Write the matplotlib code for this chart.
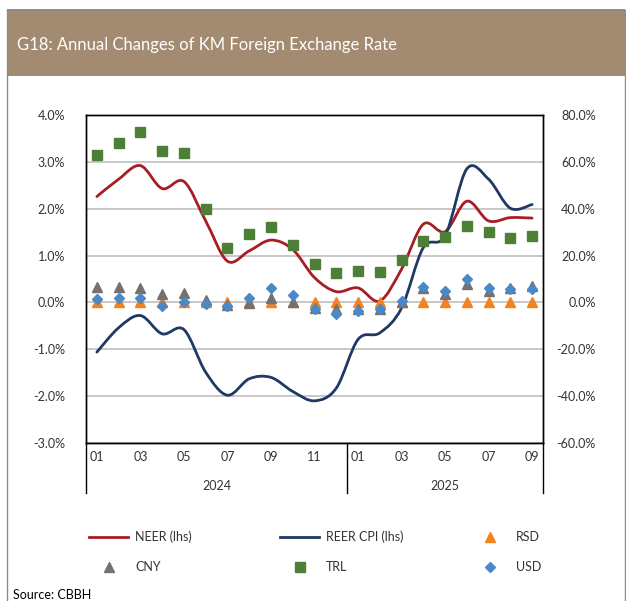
import matplotlib
matplotlib.use('Agg')
import matplotlib.pyplot as plt
from matplotlib.path import Path
from matplotlib.patches import PathPatch, Rectangle
from matplotlib.lines import Line2D
from matplotlib.transforms import blended_transform_factory
import numpy as np

plt.rcParams['font.family'] = ['Lato', 'DejaVu Sans']

months = ['01', '02', '03', '04', '05', '06', '07', '08', '09', '10', '11', '12',
          '01', '02', '03', '04', '05', '06', '07', '08', '09']
years = ['2024', '2025']
year_spans = [(0, 11), (12, 20)]

# left axis (%)
neer = [2.26, 2.63, 2.92, 2.43, 2.58, 1.74, 0.88, 1.10, 1.33, 1.13, 0.53, 0.23,
        0.31, 0.03, 0.71, 1.67, 1.51, 2.16, 1.74, 1.81, 1.80]
reer_cpi = [-1.06, -0.54, -0.28, -0.67, -0.58, -1.49, -1.98, -1.63, -1.60, -1.90, -2.10, -1.83,
            -0.79, -0.65, -0.12, 1.17, 1.42, 2.85, 2.63, 2.01, 2.09]
# right axis (%)
rsd = [0.0, 0.0, 0.0, 0.0, 0.0, 0.0, 0.0, 0.0, 0.0, 0.0, 0.0, 0.0,
       0.0, 0.0, 0.0, 0.0, 0.0, 0.0, 0.0, 0.0, 0.0]
cny = [6.5, 6.5, 6.1, 3.4, 4.1, 0.9, -1.1, -0.4, 1.7, 0.3, -2.2, -2.7,
       -3.0, -2.6, 0.2, 6.0, 3.7, 8.0, 4.8, 6.0, 7.0]
trl = [63.1, 68.0, 72.7, 64.5, 63.7, 39.7, 23.4, 29.0, 32.4, 24.7, 16.6, 12.7,
       13.6, 12.8, 17.9, 26.4, 27.8, 32.8, 30.0, 27.3, 28.3]
usd = [1.3, 2.0, 1.7, -1.6, 0.3, -0.6, -1.6, 2.0, 6.1, 3.0, -3.0, -5.1,
       -3.5, -3.0, 0.6, 6.6, 4.8, 9.8, 6.0, 5.9, 5.9]

C_NEER = '#A81C24'
C_REER = '#1F3864'
C_RSD = '#F4821F'
C_CNY = '#767171'
C_TRL = '#4E7F36'
C_USD = '#4A88C7'
TXT = '#333333'

W, H = 626, 601
fig = plt.figure(figsize=(W / 100, H / 100), dpi=100)


def fx(px):
    return px / W


def fy(py):
    return 1 - py / H


# banner and outer frame
fig.patches.append(Rectangle((fx(6.5), fy(76)), fx(625) - fx(6.5), (76 - 9.5) / H,
                             transform=fig.transFigure, facecolor='#A28B71', edgecolor='none'))
for xs, ys in [((6.5, 6.5), (9.5, 601)), ((625, 625), (9.5, 601)), ((6.5, 625), (9.5, 9.5))]:
    fig.add_artist(Line2D([fx(x) for x in xs], [fy(y) for y in ys],
                          transform=fig.transFigure, color='#8C8C8C', lw=1.0))
fig.text(fx(17), fy(45), 'G18: Annual Changes of KM Foreign Exchange Rate',
         color='white', fontsize=12, va='center', ha='left')

ax = fig.add_axes([86 / W, 1 - 443 / H, (543 - 86) / W, (443 - 115) / H])
ax.set_xlim(-0.5, 20.5)
ax.set_ylim(-3, 4)
ax2 = ax.twinx()
ax2.set_ylim(-60, 80)

ax.set_yticks(np.arange(-3, 4.01, 1))
ax.set_yticklabels(['{:.1f}%'.format(v) for v in np.arange(-3, 4.01, 1)])
ax2.set_yticks(np.arange(-60, 80.01, 20))
ax2.set_yticklabels(['{:.1f}%'.format(v) for v in np.arange(-60, 80.01, 20)])
ax.grid(axis='y', color='#BFBFBF', lw=1.2)
ax.set_axisbelow(True)

x = np.arange(len(months))
ax.set_xticks(x[::2])
ax.set_xticklabels(months[::2])
ax.tick_params(axis='x', length=0, pad=6, labelsize=9, colors=TXT)
ax.tick_params(axis='y', length=0, pad=15, labelsize=9, colors=TXT)
ax2.tick_params(axis='y', length=0, pad=38, labelsize=9, colors=TXT)
for lab in ax2.get_yticklabels():
    lab.set_horizontalalignment('right')
for a in (ax, ax2):
    for s in a.spines.values():
        s.set_color('black')
        s.set_linewidth(1.0)


def smooth_path(xs, ys):
    pts = np.column_stack([xs, ys]).astype(float)
    n = len(pts)
    verts = [pts[0]]
    codes = [Path.MOVETO]
    for i in range(n - 1):
        p0 = pts[i - 1] if i > 0 else pts[i]
        p1 = pts[i]
        p2 = pts[i + 1]
        p3 = pts[i + 2] if i + 2 < n else pts[i + 1]
        c1 = p1 + (p2 - p0) / 6.0
        c2 = p2 - (p3 - p1) / 6.0
        verts += [c1, c2, p2]
        codes += [Path.CURVE4] * 3
    return Path(verts, codes)


ax.add_patch(PathPatch(smooth_path(x, neer), facecolor='none', edgecolor=C_NEER,
                       lw=2.0, capstyle='round', joinstyle='round'))
ax.add_patch(PathPatch(smooth_path(x, reer_cpi), facecolor='none', edgecolor=C_REER,
                       lw=2.0, capstyle='round', joinstyle='round'))

ax2.plot(x, rsd, ls='none', marker='^', ms=7, color=C_RSD, mec=C_RSD)
ax2.plot(x, cny, ls='none', marker='^', ms=7, color=C_CNY, mec=C_CNY)
ax2.plot(x, trl, ls='none', marker='s', ms=7.5, color=C_TRL, mec=C_TRL)
ax2.plot(x, usd, ls='none', marker='D', ms=5.5, color=C_USD, mec=C_USD)

# year labels and separators
bt = blended_transform_factory(ax.transData, ax.transAxes)
for yr, (a, b) in zip(years, year_spans):
    ax.text((a + b) / 2 + 0.0, -0.131, yr, transform=bt, ha='center', va='center',
            fontsize=9, color=TXT)
for sx in [-0.5, 11.5, 20.5]:
    ax.plot([sx, sx], [0, -0.152], transform=bt, color='black', lw=1.0, clip_on=False)

# legend (manual)
def leg_line(x0, x1, y, color):
    fig.add_artist(Line2D([fx(x0), fx(x1)], [fy(y), fy(y)], transform=fig.transFigure,
                          color=color, lw=2.0))


def leg_marker(xc, y, marker, color, ms):
    fig.add_artist(Line2D([fx(xc)], [fy(y)], transform=fig.transFigure, ls='none',
                          marker=marker, ms=ms, color=color, mec=color))


def leg_text(xl, y, s):
    fig.text(fx(xl), fy(y), s, fontsize=9, color=TXT, va='center', ha='left')


leg_line(89, 128, 537, C_NEER); leg_text(135, 537, 'NEER (lhs)')
leg_line(280, 319, 537, C_REER); leg_text(326, 537, 'REER CPI (lhs)')
leg_marker(490, 537, '^', C_RSD, 7); leg_text(516, 537, 'RSD')
leg_marker(109, 567, '^', C_CNY, 7); leg_text(135, 567, 'CNY')
leg_marker(300, 567, 's', C_TRL, 7.5); leg_text(326, 567, 'TRL')
leg_marker(490, 567, 'D', C_USD, 5.5); leg_text(516, 567, 'USD')

fig.text(fx(13), fy(595), 'Source: CBBH', fontsize=9, color='black', va='center', ha='left')

fig.savefig('out.png', dpi=100)
